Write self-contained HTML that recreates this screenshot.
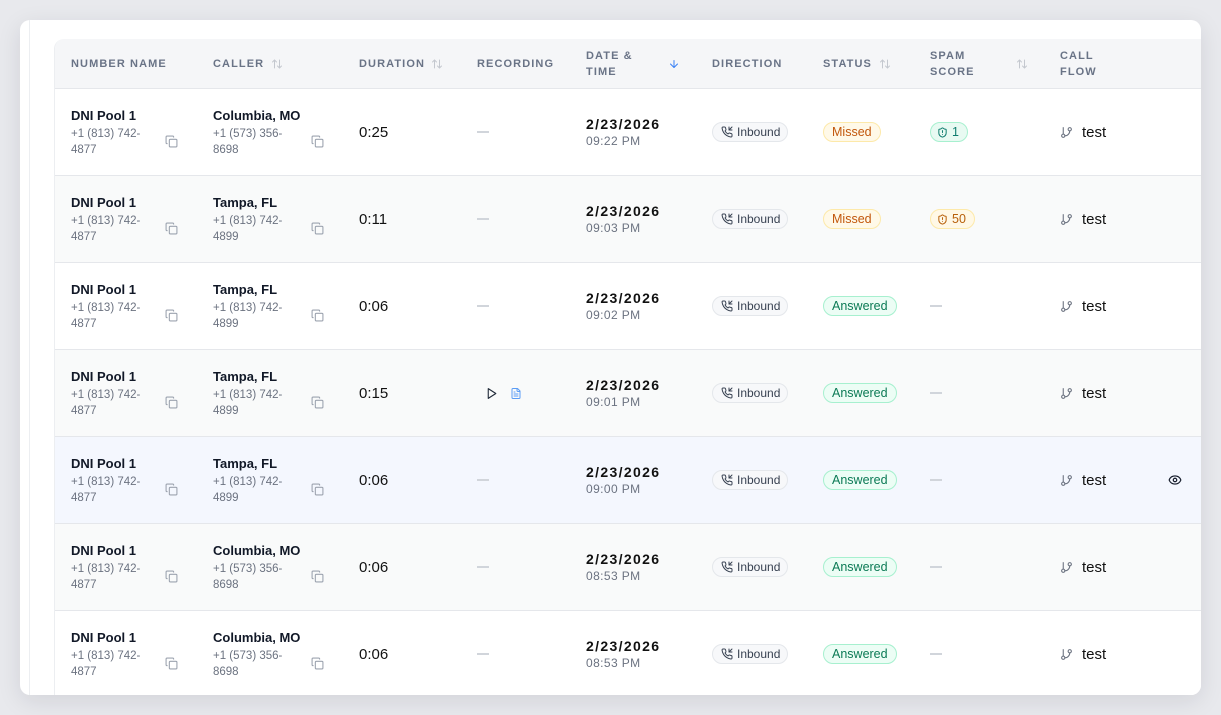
<!DOCTYPE html>
<html><head><meta charset="utf-8"><style>
*{box-sizing:border-box;margin:0;padding:0}
html,body{width:1221px;height:715px;overflow:hidden;background:#e8e9ed;font-family:"Liberation Sans",Arial,sans-serif;color:#111827}
.card{position:absolute;left:20px;top:20px;width:1181px;height:675px;background:#fff;border-radius:10px;overflow:hidden;box-shadow:0 6px 24px rgba(20,22,40,0.10)}
.vline{position:absolute;left:9px;top:0;width:1px;height:675px;background:#eceef1}
.tbl{position:absolute;left:34px;top:19px;width:1200px;height:700px;border-top-left-radius:10px;overflow:hidden;background:#fff;border-left:1px solid #eceef1}
.hd{position:absolute;left:-1px;top:0;width:1201px;height:50px;background:#f5f6f8;border-bottom:1px solid #e5e7eb}
.h{position:absolute;top:0;height:49px;display:flex;align-items:center;font-size:11px;font-weight:700;letter-spacing:1.1px;color:#697386;line-height:16px}
.row{position:absolute;left:-1px;width:1201px;height:87px;border-bottom:1px solid #e5e7eb}
.c{position:absolute;top:0;height:86px;display:flex;align-items:center}
.nn{left:17px;width:107px}
.cl{left:159px;width:111px}
.nn>div,.cl>div{width:100%}
.nm{font-size:13px;font-weight:700;line-height:18px;color:#111827;white-space:nowrap}
.ph{display:flex;justify-content:space-between;align-items:center;margin-top:1px}
.ph span{font-size:11.5px;line-height:16px;color:#6b7280;white-space:nowrap}
.du{left:305px;font-size:15px;color:#111}
.rc{left:423px}
.dash{display:inline-block;width:12px;height:1.5px;background:#d1d5db}
.dt{left:532px}
.d{font-size:14px;font-weight:700;letter-spacing:1.35px;line-height:18px;color:#111}
.t{font-size:12px;letter-spacing:0.4px;line-height:16px;color:#6b7280}
.dr{left:658px}
.st{left:769px}
.sp{left:876px}
.cf{left:1006px;font-size:15px;color:#111}
.ey{left:1114px}
.b{display:inline-flex;align-items:center;height:20px;border:1px solid;border-radius:10px;padding:0 8px;font-size:12.5px;white-space:nowrap}
.inb{background:#f7f8fa;border-color:#e4e7eb;color:#374151;font-size:12px;padding:0 7px 0 8px}
.inb svg{margin-right:4px}
.mis{background:#fff9e8;border-color:#fde9a9;color:#c2570c}
.ans{background:#ecfdf5;border-color:#a7f0cf;color:#0b7a55}
.sg{background:#e8faf2;border-color:#a7f0cf;color:#0f7c6e;padding:0 8px 0 6px}
.sa{background:#fff8e6;border-color:#fde9a9;color:#b8600b;padding:0 8px 0 6px}
.sg svg,.sa svg{margin-right:4px}
.cf svg{margin-right:9px}
</style></head><body>
<div class="card">
<div class="vline"></div>
<div class="tbl">
<div class="hd">
 <div class="h" style="left:17px">NUMBER NAME</div>
 <div class="h" style="left:159px">CALLER<svg style="margin-left:7px" width="12" height="12" viewBox="0 0 24 24" fill="none" stroke="#c4c8cf" stroke-width="2" stroke-linecap="round" stroke-linejoin="round"><path d="m21 16-4 4-4-4"/><path d="M17 20V4"/><path d="m3 8 4-4 4 4"/><path d="M7 4v16"/></svg></div>
 <div class="h" style="left:305px">DURATION<svg style="margin-left:6px" width="12" height="12" viewBox="0 0 24 24" fill="none" stroke="#c4c8cf" stroke-width="2" stroke-linecap="round" stroke-linejoin="round"><path d="m21 16-4 4-4-4"/><path d="M17 20V4"/><path d="m3 8 4-4 4 4"/><path d="M7 4v16"/></svg></div>
 <div class="h" style="left:423px">RECORDING</div>
 <div class="h" style="left:532px;width:94px;justify-content:space-between"><span>DATE &amp;<br>TIME</span><svg width="12" height="12" viewBox="0 0 24 24" fill="none" stroke="#3b82f6" stroke-width="2" stroke-linecap="round" stroke-linejoin="round"><path d="M12 5v14"/><path d="m19 12-7 7-7-7"/></svg></div>
 <div class="h" style="left:658px">DIRECTION</div>
 <div class="h" style="left:769px">STATUS<svg style="margin-left:7px" width="12" height="12" viewBox="0 0 24 24" fill="none" stroke="#c4c8cf" stroke-width="2" stroke-linecap="round" stroke-linejoin="round"><path d="m21 16-4 4-4-4"/><path d="M17 20V4"/><path d="m3 8 4-4 4 4"/><path d="M7 4v16"/></svg></div>
 <div class="h" style="left:876px;width:98px;justify-content:space-between"><span>SPAM<br>SCORE</span><svg width="12" height="12" viewBox="0 0 24 24" fill="none" stroke="#c4c8cf" stroke-width="2" stroke-linecap="round" stroke-linejoin="round"><path d="m21 16-4 4-4-4"/><path d="M17 20V4"/><path d="m3 8 4-4 4 4"/><path d="M7 4v16"/></svg></div>
 <div class="h" style="left:1006px">CALL<br>FLOW</div>
</div>

<!-- ROW 1 -->
<div class="row" style="top:50px;background:#fff">
 <div class="c nn"><div><div class="nm">DNI Pool 1</div><div class="ph"><span>+1 (813) 742-<br>4877</span><svg width="13" height="13" viewBox="0 0 24 24" fill="none" stroke="#9ca3af" stroke-width="2" stroke-linecap="round" stroke-linejoin="round"><rect x="8" y="8" width="14" height="14" rx="2"/><path d="M4 16c-1.1 0-2-.9-2-2V4c0-1.1.9-2 2-2h10c1.1 0 2 .9 2 2"/></svg></div></div></div>
 <div class="c cl"><div><div class="nm">Columbia, MO</div><div class="ph"><span>+1 (573) 356-<br>8698</span><svg width="13" height="13" viewBox="0 0 24 24" fill="none" stroke="#9ca3af" stroke-width="2" stroke-linecap="round" stroke-linejoin="round"><rect x="8" y="8" width="14" height="14" rx="2"/><path d="M4 16c-1.1 0-2-.9-2-2V4c0-1.1.9-2 2-2h10c1.1 0 2 .9 2 2"/></svg></div></div></div>
 <div class="c du">0:25</div>
 <div class="c rc"><span class="dash"></span></div>
 <div class="c dt"><div><div class="d">2/23/2026</div><div class="t">09:22 PM</div></div></div>
 <div class="c dr"><span class="b inb"><svg width="12" height="12" viewBox="0 0 24 24" fill="none" stroke="#374151" stroke-width="2" stroke-linecap="round" stroke-linejoin="round"><path d="M16 2v6h6"/><path d="m22 2-6 6"/><path d="M22 16.92v3a2 2 0 0 1-2.18 2 19.79 19.79 0 0 1-8.63-3.07 19.5 19.5 0 0 1-6-6 19.79 19.79 0 0 1-3.07-8.67A2 2 0 0 1 4.11 2h3a2 2 0 0 1 2 1.720 12.84 12.84 0 0 0 .7 2.81 2 2 0 0 1-.45 2.11L8.09 9.91a16 16 0 0 0 6 6l1.27-1.27a2 2 0 0 1 2.11-.45 12.84 12.84 0 0 0 2.81.7A2 2 0 0 1 22 16.92z"/></svg>Inbound</span></div>
 <div class="c st"><span class="b mis">Missed</span></div>
 <div class="c sp"><span class="b sg"><svg width="11" height="11" viewBox="0 0 24 24" fill="none" stroke="currentColor" stroke-width="2.2" stroke-linecap="round" stroke-linejoin="round"><path d="M20 13c0 5-3.5 7.5-7.66 8.95a1 1 0 0 1-.67-.01C7.5 20.5 4 18 4 13V6a1 1 0 0 1 1-1c2 0 4.5-1.2 6.24-2.72a1.17 1.17 0 0 1 1.52 0C14.51 3.81 17 5 19 5a1 1 0 0 1 1 1z"/><path d="M12 8v4"/><path d="M12 16h.01"/></svg>1</span></div>
 <div class="c cf"><svg width="13" height="13" viewBox="0 0 24 24" fill="none" stroke="#6b7280" stroke-width="2" stroke-linecap="round" stroke-linejoin="round"><line x1="6" y1="3" x2="6" y2="15"/><circle cx="18" cy="6" r="3"/><circle cx="6" cy="18" r="3"/><path d="M18 9a9 9 0 0 1-9 9"/></svg>test</div>
</div>

<!-- ROW 2 -->
<div class="row" style="top:137px;background:#f9fafa">
 <div class="c nn"><div><div class="nm">DNI Pool 1</div><div class="ph"><span>+1 (813) 742-<br>4877</span><svg width="13" height="13" viewBox="0 0 24 24" fill="none" stroke="#9ca3af" stroke-width="2" stroke-linecap="round" stroke-linejoin="round"><rect x="8" y="8" width="14" height="14" rx="2"/><path d="M4 16c-1.1 0-2-.9-2-2V4c0-1.1.9-2 2-2h10c1.1 0 2 .9 2 2"/></svg></div></div></div>
 <div class="c cl"><div><div class="nm">Tampa, FL</div><div class="ph"><span>+1 (813) 742-<br>4899</span><svg width="13" height="13" viewBox="0 0 24 24" fill="none" stroke="#9ca3af" stroke-width="2" stroke-linecap="round" stroke-linejoin="round"><rect x="8" y="8" width="14" height="14" rx="2"/><path d="M4 16c-1.1 0-2-.9-2-2V4c0-1.1.9-2 2-2h10c1.1 0 2 .9 2 2"/></svg></div></div></div>
 <div class="c du">0:11</div>
 <div class="c rc"><span class="dash"></span></div>
 <div class="c dt"><div><div class="d">2/23/2026</div><div class="t">09:03 PM</div></div></div>
 <div class="c dr"><span class="b inb"><svg width="12" height="12" viewBox="0 0 24 24" fill="none" stroke="#374151" stroke-width="2" stroke-linecap="round" stroke-linejoin="round"><path d="M16 2v6h6"/><path d="m22 2-6 6"/><path d="M22 16.92v3a2 2 0 0 1-2.18 2 19.79 19.79 0 0 1-8.63-3.07 19.5 19.5 0 0 1-6-6 19.79 19.79 0 0 1-3.07-8.67A2 2 0 0 1 4.11 2h3a2 2 0 0 1 2 1.72 12.84 12.84 0 0 0 .7 2.81 2 2 0 0 1-.45 2.11L8.09 9.91a16 16 0 0 0 6 6l1.27-1.27a2 2 0 0 1 2.11-.45 12.84 12.84 0 0 0 2.81.7A2 2 0 0 1 22 16.92z"/></svg>Inbound</span></div>
 <div class="c st"><span class="b mis">Missed</span></div>
 <div class="c sp"><span class="b sa"><svg width="11" height="11" viewBox="0 0 24 24" fill="none" stroke="currentColor" stroke-width="2.2" stroke-linecap="round" stroke-linejoin="round"><path d="M20 13c0 5-3.5 7.5-7.66 8.95a1 1 0 0 1-.67-.01C7.5 20.5 4 18 4 13V6a1 1 0 0 1 1-1c2 0 4.5-1.2 6.24-2.72a1.17 1.17 0 0 1 1.52 0C14.51 3.81 17 5 19 5a1 1 0 0 1 1 1z"/><path d="M12 8v4"/><path d="M12 16h.01"/></svg>50</span></div>
 <div class="c cf"><svg width="13" height="13" viewBox="0 0 24 24" fill="none" stroke="#6b7280" stroke-width="2" stroke-linecap="round" stroke-linejoin="round"><line x1="6" y1="3" x2="6" y2="15"/><circle cx="18" cy="6" r="3"/><circle cx="6" cy="18" r="3"/><path d="M18 9a9 9 0 0 1-9 9"/></svg>test</div>
</div>

<!-- ROW 3 -->
<div class="row" style="top:224px;background:#fff">
 <div class="c nn"><div><div class="nm">DNI Pool 1</div><div class="ph"><span>+1 (813) 742-<br>4877</span><svg width="13" height="13" viewBox="0 0 24 24" fill="none" stroke="#9ca3af" stroke-width="2" stroke-linecap="round" stroke-linejoin="round"><rect x="8" y="8" width="14" height="14" rx="2"/><path d="M4 16c-1.1 0-2-.9-2-2V4c0-1.1.9-2 2-2h10c1.1 0 2 .9 2 2"/></svg></div></div></div>
 <div class="c cl"><div><div class="nm">Tampa, FL</div><div class="ph"><span>+1 (813) 742-<br>4899</span><svg width="13" height="13" viewBox="0 0 24 24" fill="none" stroke="#9ca3af" stroke-width="2" stroke-linecap="round" stroke-linejoin="round"><rect x="8" y="8" width="14" height="14" rx="2"/><path d="M4 16c-1.1 0-2-.9-2-2V4c0-1.1.9-2 2-2h10c1.1 0 2 .9 2 2"/></svg></div></div></div>
 <div class="c du">0:06</div>
 <div class="c rc"><span class="dash"></span></div>
 <div class="c dt"><div><div class="d">2/23/2026</div><div class="t">09:02 PM</div></div></div>
 <div class="c dr"><span class="b inb"><svg width="12" height="12" viewBox="0 0 24 24" fill="none" stroke="#374151" stroke-width="2" stroke-linecap="round" stroke-linejoin="round"><path d="M16 2v6h6"/><path d="m22 2-6 6"/><path d="M22 16.92v3a2 2 0 0 1-2.18 2 19.79 19.79 0 0 1-8.63-3.07 19.5 19.5 0 0 1-6-6 19.79 19.79 0 0 1-3.07-8.67A2 2 0 0 1 4.11 2h3a2 2 0 0 1 2 1.72 12.84 12.84 0 0 0 .7 2.81 2 2 0 0 1-.45 2.11L8.09 9.91a16 16 0 0 0 6 6l1.27-1.27a2 2 0 0 1 2.11-.45 12.84 12.84 0 0 0 2.81.7A2 2 0 0 1 22 16.92z"/></svg>Inbound</span></div>
 <div class="c st"><span class="b ans">Answered</span></div>
 <div class="c sp"><span class="dash"></span></div>
 <div class="c cf"><svg width="13" height="13" viewBox="0 0 24 24" fill="none" stroke="#6b7280" stroke-width="2" stroke-linecap="round" stroke-linejoin="round"><line x1="6" y1="3" x2="6" y2="15"/><circle cx="18" cy="6" r="3"/><circle cx="6" cy="18" r="3"/><path d="M18 9a9 9 0 0 1-9 9"/></svg>test</div>
</div>

<!-- ROW 4 -->
<div class="row" style="top:311px;background:#f9fafa">
 <div class="c nn"><div><div class="nm">DNI Pool 1</div><div class="ph"><span>+1 (813) 742-<br>4877</span><svg width="13" height="13" viewBox="0 0 24 24" fill="none" stroke="#9ca3af" stroke-width="2" stroke-linecap="round" stroke-linejoin="round"><rect x="8" y="8" width="14" height="14" rx="2"/><path d="M4 16c-1.1 0-2-.9-2-2V4c0-1.1.9-2 2-2h10c1.1 0 2 .9 2 2"/></svg></div></div></div>
 <div class="c cl"><div><div class="nm">Tampa, FL</div><div class="ph"><span>+1 (813) 742-<br>4899</span><svg width="13" height="13" viewBox="0 0 24 24" fill="none" stroke="#9ca3af" stroke-width="2" stroke-linecap="round" stroke-linejoin="round"><rect x="8" y="8" width="14" height="14" rx="2"/><path d="M4 16c-1.1 0-2-.9-2-2V4c0-1.1.9-2 2-2h10c1.1 0 2 .9 2 2"/></svg></div></div></div>
 <div class="c du">0:15</div>
 <div class="c rc" style="left:431px"><svg width="13" height="13" viewBox="0 0 24 24" fill="none" stroke="#1f2937" stroke-width="2" stroke-linecap="round" stroke-linejoin="round"><polygon points="6 3 20 12 6 21 6 3"/></svg><svg style="margin-left:12px" width="12" height="13" viewBox="0 0 24 24" fill="none" stroke="#5b9cf5" stroke-width="2" stroke-linecap="round" stroke-linejoin="round"><path d="M15 2H6a2 2 0 0 0-2 2v16a2 2 0 0 0 2 2h12a2 2 0 0 0 2-2V7Z"/><path d="M14 2v4a2 2 0 0 0 2 2h4"/><path d="M10 9H8"/><path d="M16 13H8"/><path d="M16 17H8"/></svg></div>
 <div class="c dt"><div><div class="d">2/23/2026</div><div class="t">09:01 PM</div></div></div>
 <div class="c dr"><span class="b inb"><svg width="12" height="12" viewBox="0 0 24 24" fill="none" stroke="#374151" stroke-width="2" stroke-linecap="round" stroke-linejoin="round"><path d="M16 2v6h6"/><path d="m22 2-6 6"/><path d="M22 16.92v3a2 2 0 0 1-2.18 2 19.79 19.79 0 0 1-8.63-3.07 19.5 19.5 0 0 1-6-6 19.79 19.79 0 0 1-3.07-8.67A2 2 0 0 1 4.11 2h3a2 2 0 0 1 2 1.72 12.84 12.84 0 0 0 .7 2.81 2 2 0 0 1-.45 2.11L8.09 9.91a16 16 0 0 0 6 6l1.27-1.27a2 2 0 0 1 2.11-.45 12.84 12.84 0 0 0 2.81.7A2 2 0 0 1 22 16.92z"/></svg>Inbound</span></div>
 <div class="c st"><span class="b ans">Answered</span></div>
 <div class="c sp"><span class="dash"></span></div>
 <div class="c cf"><svg width="13" height="13" viewBox="0 0 24 24" fill="none" stroke="#6b7280" stroke-width="2" stroke-linecap="round" stroke-linejoin="round"><line x1="6" y1="3" x2="6" y2="15"/><circle cx="18" cy="6" r="3"/><circle cx="6" cy="18" r="3"/><path d="M18 9a9 9 0 0 1-9 9"/></svg>test</div>
</div>

<!-- ROW 5 -->
<div class="row" style="top:398px;background:#f4f7fe">
 <div class="c nn"><div><div class="nm">DNI Pool 1</div><div class="ph"><span>+1 (813) 742-<br>4877</span><svg width="13" height="13" viewBox="0 0 24 24" fill="none" stroke="#9ca3af" stroke-width="2" stroke-linecap="round" stroke-linejoin="round"><rect x="8" y="8" width="14" height="14" rx="2"/><path d="M4 16c-1.1 0-2-.9-2-2V4c0-1.1.9-2 2-2h10c1.1 0 2 .9 2 2"/></svg></div></div></div>
 <div class="c cl"><div><div class="nm">Tampa, FL</div><div class="ph"><span>+1 (813) 742-<br>4899</span><svg width="13" height="13" viewBox="0 0 24 24" fill="none" stroke="#9ca3af" stroke-width="2" stroke-linecap="round" stroke-linejoin="round"><rect x="8" y="8" width="14" height="14" rx="2"/><path d="M4 16c-1.1 0-2-.9-2-2V4c0-1.1.9-2 2-2h10c1.1 0 2 .9 2 2"/></svg></div></div></div>
 <div class="c du">0:06</div>
 <div class="c rc"><span class="dash"></span></div>
 <div class="c dt"><div><div class="d">2/23/2026</div><div class="t">09:00 PM</div></div></div>
 <div class="c dr"><span class="b inb"><svg width="12" height="12" viewBox="0 0 24 24" fill="none" stroke="#374151" stroke-width="2" stroke-linecap="round" stroke-linejoin="round"><path d="M16 2v6h6"/><path d="m22 2-6 6"/><path d="M22 16.92v3a2 2 0 0 1-2.18 2 19.79 19.79 0 0 1-8.63-3.07 19.5 19.5 0 0 1-6-6 19.79 19.79 0 0 1-3.07-8.67A2 2 0 0 1 4.11 2h3a2 2 0 0 1 2 1.72 12.84 12.84 0 0 0 .7 2.81 2 2 0 0 1-.45 2.11L8.09 9.91a16 16 0 0 0 6 6l1.27-1.27a2 2 0 0 1 2.11-.45 12.84 12.84 0 0 0 2.81.7A2 2 0 0 1 22 16.92z"/></svg>Inbound</span></div>
 <div class="c st"><span class="b ans">Answered</span></div>
 <div class="c sp"><span class="dash"></span></div>
 <div class="c cf"><svg width="13" height="13" viewBox="0 0 24 24" fill="none" stroke="#6b7280" stroke-width="2" stroke-linecap="round" stroke-linejoin="round"><line x1="6" y1="3" x2="6" y2="15"/><circle cx="18" cy="6" r="3"/><circle cx="6" cy="18" r="3"/><path d="M18 9a9 9 0 0 1-9 9"/></svg>test</div>
 <div class="c ey"><svg width="14" height="14" viewBox="0 0 24 24" fill="none" stroke="#111827" stroke-width="2" stroke-linecap="round" stroke-linejoin="round"><path d="M2.06 12.35a1 1 0 0 1 0-.7 10.75 10.75 0 0 1 19.88 0 1 1 0 0 1 0 .7 10.75 10.75 0 0 1-19.88 0"/><circle cx="12" cy="12" r="3"/></svg></div>
</div>

<!-- ROW 6 -->
<div class="row" style="top:485px;background:#f9fafa">
 <div class="c nn"><div><div class="nm">DNI Pool 1</div><div class="ph"><span>+1 (813) 742-<br>4877</span><svg width="13" height="13" viewBox="0 0 24 24" fill="none" stroke="#9ca3af" stroke-width="2" stroke-linecap="round" stroke-linejoin="round"><rect x="8" y="8" width="14" height="14" rx="2"/><path d="M4 16c-1.1 0-2-.9-2-2V4c0-1.1.9-2 2-2h10c1.1 0 2 .9 2 2"/></svg></div></div></div>
 <div class="c cl"><div><div class="nm">Columbia, MO</div><div class="ph"><span>+1 (573) 356-<br>8698</span><svg width="13" height="13" viewBox="0 0 24 24" fill="none" stroke="#9ca3af" stroke-width="2" stroke-linecap="round" stroke-linejoin="round"><rect x="8" y="8" width="14" height="14" rx="2"/><path d="M4 16c-1.1 0-2-.9-2-2V4c0-1.1.9-2 2-2h10c1.1 0 2 .9 2 2"/></svg></div></div></div>
 <div class="c du">0:06</div>
 <div class="c rc"><span class="dash"></span></div>
 <div class="c dt"><div><div class="d">2/23/2026</div><div class="t">08:53 PM</div></div></div>
 <div class="c dr"><span class="b inb"><svg width="12" height="12" viewBox="0 0 24 24" fill="none" stroke="#374151" stroke-width="2" stroke-linecap="round" stroke-linejoin="round"><path d="M16 2v6h6"/><path d="m22 2-6 6"/><path d="M22 16.92v3a2 2 0 0 1-2.18 2 19.79 19.79 0 0 1-8.63-3.07 19.5 19.5 0 0 1-6-6 19.79 19.79 0 0 1-3.07-8.67A2 2 0 0 1 4.11 2h3a2 2 0 0 1 2 1.72 12.84 12.84 0 0 0 .7 2.81 2 2 0 0 1-.45 2.11L8.09 9.91a16 16 0 0 0 6 6l1.27-1.27a2 2 0 0 1 2.11-.45 12.84 12.84 0 0 0 2.81.7A2 2 0 0 1 22 16.92z"/></svg>Inbound</span></div>
 <div class="c st"><span class="b ans">Answered</span></div>
 <div class="c sp"><span class="dash"></span></div>
 <div class="c cf"><svg width="13" height="13" viewBox="0 0 24 24" fill="none" stroke="#6b7280" stroke-width="2" stroke-linecap="round" stroke-linejoin="round"><line x1="6" y1="3" x2="6" y2="15"/><circle cx="18" cy="6" r="3"/><circle cx="6" cy="18" r="3"/><path d="M18 9a9 9 0 0 1-9 9"/></svg>test</div>
</div>

<!-- ROW 7 -->
<div class="row" style="top:572px;background:#fff">
 <div class="c nn"><div><div class="nm">DNI Pool 1</div><div class="ph"><span>+1 (813) 742-<br>4877</span><svg width="13" height="13" viewBox="0 0 24 24" fill="none" stroke="#9ca3af" stroke-width="2" stroke-linecap="round" stroke-linejoin="round"><rect x="8" y="8" width="14" height="14" rx="2"/><path d="M4 16c-1.1 0-2-.9-2-2V4c0-1.1.9-2 2-2h10c1.1 0 2 .9 2 2"/></svg></div></div></div>
 <div class="c cl"><div><div class="nm">Columbia, MO</div><div class="ph"><span>+1 (573) 356-<br>8698</span><svg width="13" height="13" viewBox="0 0 24 24" fill="none" stroke="#9ca3af" stroke-width="2" stroke-linecap="round" stroke-linejoin="round"><rect x="8" y="8" width="14" height="14" rx="2"/><path d="M4 16c-1.1 0-2-.9-2-2V4c0-1.1.9-2 2-2h10c1.1 0 2 .9 2 2"/></svg></div></div></div>
 <div class="c du">0:06</div>
 <div class="c rc"><span class="dash"></span></div>
 <div class="c dt"><div><div class="d">2/23/2026</div><div class="t">08:53 PM</div></div></div>
 <div class="c dr"><span class="b inb"><svg width="12" height="12" viewBox="0 0 24 24" fill="none" stroke="#374151" stroke-width="2" stroke-linecap="round" stroke-linejoin="round"><path d="M16 2v6h6"/><path d="m22 2-6 6"/><path d="M22 16.92v3a2 2 0 0 1-2.18 2 19.79 19.79 0 0 1-8.63-3.07 19.5 19.5 0 0 1-6-6 19.79 19.79 0 0 1-3.07-8.67A2 2 0 0 1 4.11 2h3a2 2 0 0 1 2 1.72 12.84 12.84 0 0 0 .7 2.81 2 2 0 0 1-.45 2.11L8.09 9.91a16 16 0 0 0 6 6l1.27-1.27a2 2 0 0 1 2.11-.45 12.84 12.84 0 0 0 2.81.7A2 2 0 0 1 22 16.92z"/></svg>Inbound</span></div>
 <div class="c st"><span class="b ans">Answered</span></div>
 <div class="c sp"><span class="dash"></span></div>
 <div class="c cf"><svg width="13" height="13" viewBox="0 0 24 24" fill="none" stroke="#6b7280" stroke-width="2" stroke-linecap="round" stroke-linejoin="round"><line x1="6" y1="3" x2="6" y2="15"/><circle cx="18" cy="6" r="3"/><circle cx="6" cy="18" r="3"/><path d="M18 9a9 9 0 0 1-9 9"/></svg>test</div>
</div>

</div>
</div>
</body></html>
